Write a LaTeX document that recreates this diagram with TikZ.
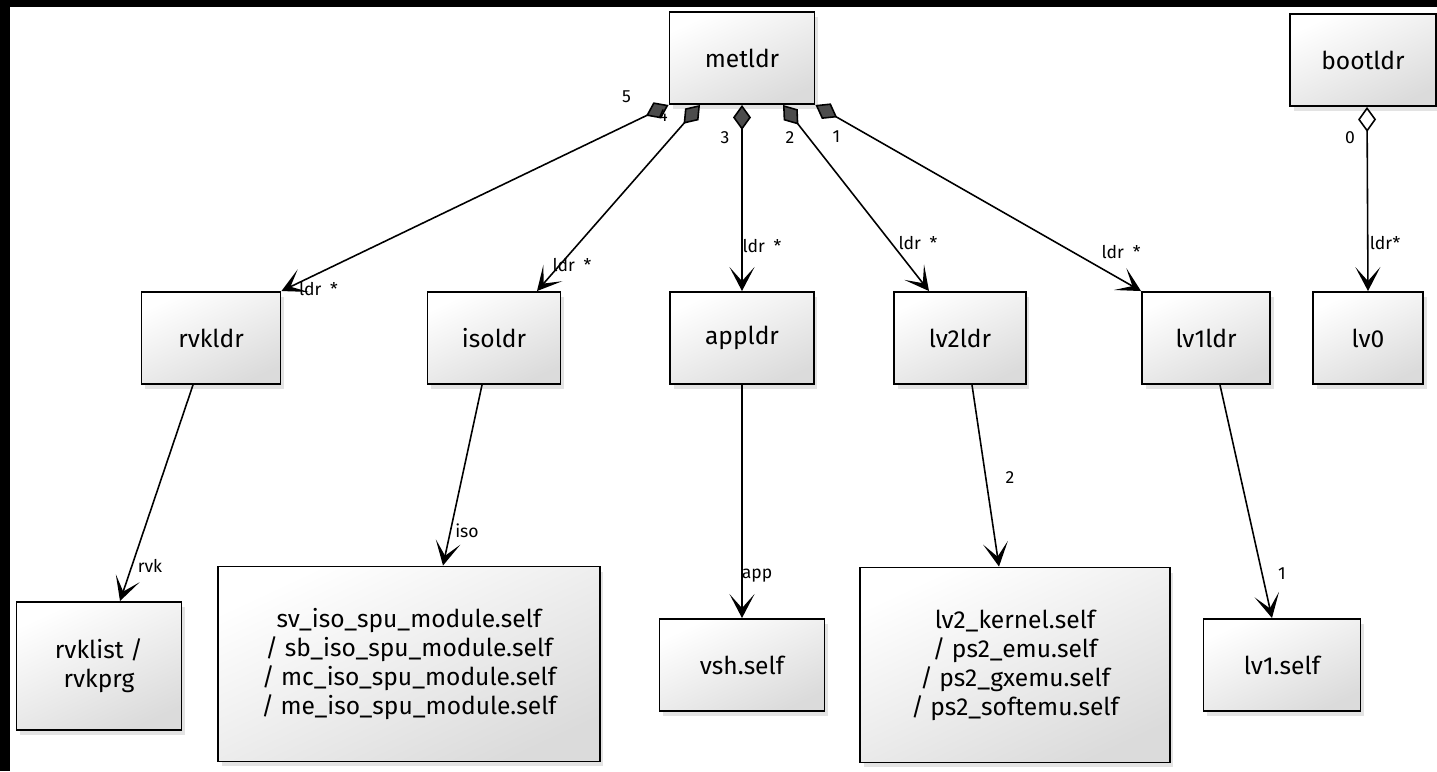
\documentclass[tikz,border=0pt]{standalone}
\usepackage{fontspec}
\setmainfont{Fira Sans}
\usetikzlibrary{arrows.meta,shadows}

\tikzset{
  ldr/.style={draw, line width=1.1pt, top color=white, bottom color=black!14, shading angle=25,
    drop shadow={shadow xshift=0.07cm, shadow yshift=-0.1cm, opacity=0.22},
    align=center, inner sep=2pt, minimum height=1.84cm,
    font=\fontsize{14}{16.5}\selectfont},
  comp/.style={line width=0.9pt, {Diamond[length=5mm, width=3.6mm, fill=black!70]}-{Stealth[length=4.8mm, width=5mm, inset=2.8mm]}},
  aggr/.style={line width=0.9pt, {Diamond[length=5mm, width=3.6mm, fill=white]}-{Stealth[length=4.8mm, width=5mm, inset=2.8mm]}},
  load/.style={line width=0.9pt, -{Stealth[length=4.8mm, width=5mm, inset=2.8mm]}},
  lbl/.style={font=\fontsize{10}{12}\selectfont, inner sep=0pt}
}

\begin{document}
\begin{tikzpicture}[x=0.02cm, y=-0.02cm]
  \useasboundingbox (0,0) rectangle (1437,771);
  \fill[white] (0,0) rectangle (1437,771);
  \fill[black] (0,0) rectangle (1437,7);
  \fill[black] (0,0) rectangle (10,771);

  \node (metldr)  at (742,58)   [ldr, minimum width=2.9cm]  {metldr};
  \node (bootldr) at (1363,60)  [ldr, minimum width=2.92cm] {bootldr};

  \node (rvkldr) at (211,338)  [ldr, minimum width=2.78cm] {rvkldr};
  \node (isoldr) at (494,338)  [ldr, minimum width=2.66cm] {isoldr};
  \node (appldr) at (742,338)  [ldr, minimum width=2.88cm] {appldr};
  \node (lv2ldr) at (960,338)  [ldr, minimum width=2.64cm] {lv2ldr};
  \node (lv1ldr) at (1206,338) [ldr, minimum width=2.56cm] {lv1ldr};
  \node (lv0)    at (1368,338) [ldr, minimum width=2.2cm]  {lv0};

  \node (rvklist) at (99,666)   [ldr, minimum width=3.3cm, minimum height=2.56cm] {rvklist /\\rvkprg};
  \node (isoself) at (409,664)  [ldr, minimum width=7.64cm, minimum height=3.9cm]
        {sv\_iso\_spu\_module.self\\/ sb\_iso\_spu\_module.self\\/ mc\_iso\_spu\_module.self\\/ me\_iso\_spu\_module.self};
  \node (vshself) at (742,665)  [ldr, minimum width=3.3cm] {vsh.self};
  \node (lv2self) at (1015,665) [ldr, minimum width=6.2cm, minimum height=3.9cm]
        {lv2\_kernel.self\\/ ps2\_emu.self\\/ ps2\_gxemu.self\\/ ps2\_softemu.self};
  \node (lv1self) at (1282,665) [ldr, minimum width=3.14cm] {lv1.self};

  \draw[comp] (metldr.south west) -- (rvkldr.north east)
    node[lbl, at start, shift={(-42,-8)}] {5} node[lbl, at end, shift={(37,-2)}] {ldr\enspace*};
  \draw[comp] ([xshift=-0.84cm]metldr.south) -- ([xshift=0.86cm]isoldr.north)
    node[lbl, at start, shift={(-37,11)}] {4} node[lbl, at end, shift={(35,-26)}] {ldr\enspace*};
  \draw[comp] (metldr.south) -- (appldr.north)
    node[lbl, at start, shift={(-17,33)}] {3} node[lbl, at end, shift={(20,-45)}] {ldr\enspace*};
  \draw[comp] ([xshift=0.82cm]metldr.south) -- ([xshift=-0.62cm]lv2ldr.north)
    node[lbl, at start, shift={(7,33)}] {2} node[lbl, at end, shift={(-11,-48)}] {ldr\enspace*};
  \draw[comp] (metldr.south east) -- (lv1ldr.north west)
    node[lbl, at start, shift={(21,32)}] {1} node[lbl, at end, shift={(-20,-39)}] {ldr\enspace*};
  \draw[aggr] ([xshift=0.08cm]bootldr.south) -- (lv0.north)
    node[lbl, at start, shift={(-17,31)}] {0} node[lbl, at end, shift={(17,-48)}] {ldr*};

  \draw[load] ([xshift=-0.36cm]rvkldr.south) -- ([xshift=0.42cm]rvklist.north)
    node[lbl, at end, shift={(30,-35)}] {rvk};
  \draw[load] ([xshift=-0.24cm]isoldr.south) -- ([xshift=0.68cm]isoself.north)
    node[lbl, at end, shift={(24,-35)}] {iso};
  \draw[load] (appldr.south) -- (vshself.north)
    node[lbl, at end, shift={(15,-42)}] {app};
  \draw[load] ([xshift=0.24cm]lv2ldr.south) -- ([xshift=-0.32cm]lv2self.north)
    node[lbl, at end, shift={(11,-89)}] {2};
  \draw[load] ([xshift=0.28cm]lv1ldr.south) -- ([xshift=-0.2cm]lv1self.north)
    node[lbl, at end, shift={(10,-44)}] {1};
\end{tikzpicture}
\end{document}
